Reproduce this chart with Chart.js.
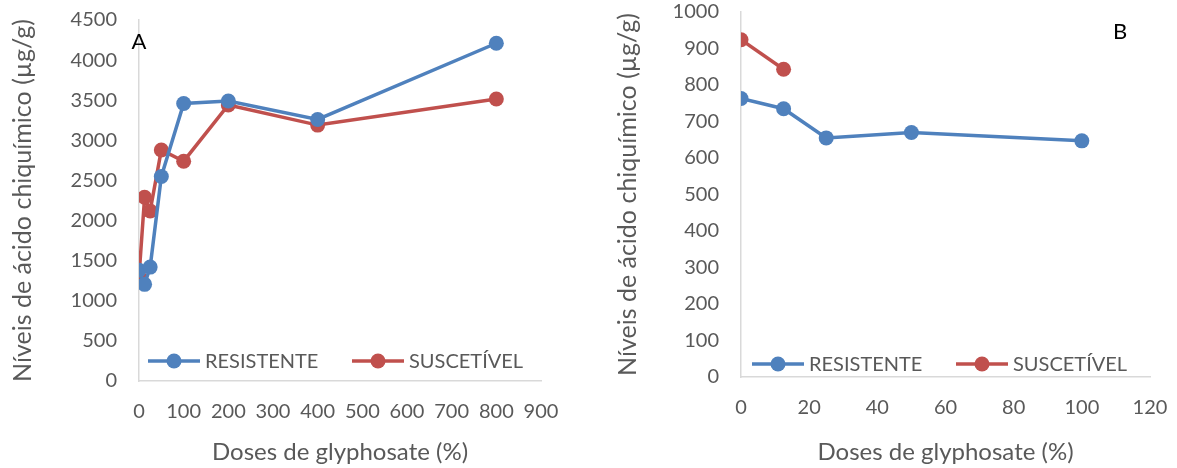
<!DOCTYPE html>
<html>
<head>
<meta charset="utf-8">
<script src="https://cdn.jsdelivr.net/npm/chart.js@4/dist/chart.umd.min.js"></script>
<style>
  html, body { margin: 0; padding: 0; background: #fff; }
  .panel { position: absolute; top: 0; height: 468px; }
  #panelA { left: 0; width: 585px; }
  #panelB { left: 590px; width: 587px; }
</style>
</head>
<body>
<div id="panelA" class="panel"><canvas id="chartA"></canvas></div>
<div id="panelB" class="panel"><canvas id="chartB"></canvas></div>
<script>
// Panel A data
const dosesA = [0, 12.5, 25, 50, 100, 200, 400, 800];
const resistenteA = [1380, 1205, 1420, 2550, 3460, 3490, 3260, 4210];
const suscetivelA = [1300, 2290, 2120, 2880, 2740, 3440, 3190, 3515];

// Panel B data
const dosesB = [0, 12.5, 25, 50, 100];
const resistenteB = [763, 735, 655, 670, 647];
const dosesBSusc = [0, 12.5];
const suscetivelB = [924, 843];

const seriesNames = ['RESISTENTE', 'SUSCETÍVEL'];
const xTitle = 'Doses de glyphosate (%)';
const yTitle = 'Níveis de ácido chiquímico (µg/g)';

const BLUE = '#4F81BD';
const RED = '#C0504D';
const GREY = '#595959';
const FONT = 'Lato, "Open Sans", sans-serif';

function toPoints(xs, ys) {
  return xs.map((x, i) => ({ x, y: ys[i] }));
}

function dataset(label, xs, ys, color) {
  return {
    label,
    data: toPoints(xs, ys),
    borderColor: color,
    backgroundColor: color,
    borderWidth: 3.5,
    pointRadius: 7.5,
    pointHoverRadius: 7.5,
    pointBorderWidth: 0,
    showLine: true,
    tension: 0,
  };
}

// draws the inline legend (line + marker + text) and the panel letter
const panelDecor = {
  id: 'panelDecor',
  afterDraw(chart, args, opts) {
    const { ctx, chartArea } = chart;
    ctx.save();
    const y = chartArea.bottom - opts.legendOffset;
    chart.data.datasets.forEach((ds, i) => {
      const x0 = chartArea.left + opts.legendX[i];
      ctx.strokeStyle = ds.borderColor;
      ctx.lineWidth = 3.5;
      ctx.beginPath();
      ctx.moveTo(x0, y);
      ctx.lineTo(x0 + 52, y);
      ctx.stroke();
      ctx.fillStyle = ds.borderColor;
      ctx.beginPath();
      ctx.arc(x0 + 26, y, 7.5, 0, Math.PI * 2);
      ctx.fill();
      ctx.fillStyle = GREY;
      ctx.font = '20px ' + FONT;
      ctx.textBaseline = 'middle';
      ctx.textAlign = 'left';
      ctx.fillText(ds.label, x0 + 57, y + 1);
    });
    ctx.fillStyle = '#000';
    ctx.font = '22px ' + FONT;
    ctx.textAlign = 'center';
    ctx.textBaseline = 'middle';
    ctx.fillText(opts.letter, opts.letterX, opts.letterY);
    ctx.restore();
  }
};

function makeChart(id, datasets, xMax, xStep, yMax, yStep, leftW, bottomH, yTitlePad, pad, decor) {
  return new Chart(document.getElementById(id), {
    type: 'scatter',
    data: { datasets },
    plugins: [panelDecor],
    options: {
      responsive: true,
      maintainAspectRatio: false,
      animation: false,
      layout: { padding: pad },
      plugins: {
        legend: { display: false },
        tooltip: { enabled: false },
        panelDecor: decor,
      },
      scales: {
        x: {
          type: 'linear',
          min: 0, max: xMax,
          grid: { display: false, drawTicks: false },
          border: { color: '#D9D9D9', width: 1.5 },
          ticks: { stepSize: xStep, color: GREY, font: { family: FONT, size: 20 }, padding: 19, callback: v => String(v) },
          title: { display: true, text: xTitle, color: GREY, font: { family: FONT, size: 24 }, padding: { top: 8, bottom: 1 } },
          afterFit(s) { s.height = bottomH; s.paddingLeft = 0; s.paddingRight = 0; },
        },
        y: {
          min: 0, max: yMax,
          grid: { display: false, drawTicks: false },
          border: { color: '#D9D9D9', width: 1.5 },
          ticks: { stepSize: yStep, color: GREY, font: { family: FONT, size: 20 }, padding: 22, callback: v => String(v) },
          title: { display: true, text: yTitle, color: GREY, font: { family: FONT, size: 25 }, padding: { top: yTitlePad, bottom: 4 } },
          afterFit(s) { s.width = leftW; s.paddingTop = 0; s.paddingBottom = 0; },
        },
      },
    },
  });
}

makeChart('chartA', [
  dataset(seriesNames[0], dosesA, resistenteA, BLUE),
  dataset(seriesNames[1], dosesA, suscetivelA, RED),
], 900, 100, 4500, 500, 139, 87, 8, { top: 20, right: 44, left: 0, bottom: 0 },
  { legendOffset: 20, legendX: [9, 213], letter: 'A', letterX: 139, letterY: 42 });

makeChart('chartB', [
  dataset(seriesNames[0], dosesB, resistenteB, BLUE),
  dataset(seriesNames[1], dosesBSusc, suscetivelB, RED),
], 120, 20, 1000, 100, 151, 91, 23, { top: 12, right: 27, left: 0, bottom: 0 },
  { legendOffset: 13, legendX: [11, 215], letter: 'B', letterX: 530, letterY: 32 });
</script>
</body>
</html>
